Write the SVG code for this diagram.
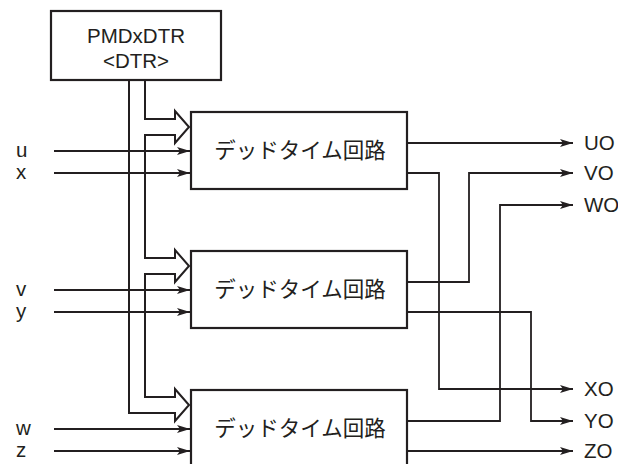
<svg xmlns="http://www.w3.org/2000/svg" width="618" height="464" viewBox="0 0 618 464">
<style>
.box{fill:#fff;stroke:#231f20;stroke-width:2.2}
.ln{fill:none;stroke:#231f20;stroke-width:1.8}
.bus{fill:none;stroke:#231f20;stroke-width:2}
.lat{font-family:"Liberation Sans",Arial,sans-serif;font-size:20.5px;fill:#231f20}
.jp{font-family:"Noto Sans CJK JP","Noto Sans",sans-serif;font-size:21.5px;fill:#231f20;text-anchor:middle}
</style>
<defs>
<marker id="ah" markerUnits="userSpaceOnUse" markerWidth="14" markerHeight="10" refX="13" refY="4.5" orient="auto">
<path d="M0,0.5 L13,4.5 L0,8.5 L3,4.5 z" fill="#231f20"/>
</marker>
</defs>
<g id="connectors">
<path class="bus" d="M145,80 V119 H175 V111 L189,127 L175,143 V135 H145 V258 H175 V250 L189,266 L175,282 V274 H145 V397 H175 V389 L189,405 L175,421 V413 H129 V80"/>
<path class="ln" marker-end="url(#ah)" d="M54,151 H190"/>
<path class="ln" marker-end="url(#ah)" d="M54,173 H190"/>
<path class="ln" marker-end="url(#ah)" d="M54,290 H190"/>
<path class="ln" marker-end="url(#ah)" d="M54,312 H190"/>
<path class="ln" marker-end="url(#ah)" d="M54,429 H190"/>
<path class="ln" marker-end="url(#ah)" d="M54,451 H190"/>
<path class="ln" marker-end="url(#ah)" d="M407,143 H573"/>
<path class="ln" marker-end="url(#ah)" d="M407,173 H439 V389 H573"/>
<path class="ln" marker-end="url(#ah)" d="M407,282 H469 V173 H573"/>
<path class="ln" marker-end="url(#ah)" d="M407,312 H531 V421 H573"/>
<path class="ln" marker-end="url(#ah)" d="M407,421 H500 V205 H573"/>
<path class="ln" marker-end="url(#ah)" d="M407,451 H573"/>
</g>
<g id="pmd">
<rect class="box" x="51" y="11" width="170" height="69"/>
<text class="lat" x="136" y="43" text-anchor="middle">PMDxDTR</text>
<text class="lat" x="136" y="68" text-anchor="middle">&lt;DTR&gt;</text>
</g>
<g id="dt1">
<rect class="box" x="191" y="112" width="216" height="77"/>
<text class="jp" x="300" y="158">デッドタイム回路</text>
</g>
<g id="dt2">
<rect class="box" x="191" y="251" width="216" height="77"/>
<text class="jp" x="300" y="297">デッドタイム回路</text>
</g>
<g id="dt3">
<rect class="box" x="191" y="390" width="216" height="80"/>
<text class="jp" x="300" y="436">デッドタイム回路</text>
</g>
<g id="inputs">
<text class="lat" x="16" y="157">u</text>
<text class="lat" x="16" y="179">x</text>
<text class="lat" x="16" y="296">v</text>
<text class="lat" x="16" y="318">y</text>
<text class="lat" x="16" y="435">w</text>
<text class="lat" x="16" y="457">z</text>
</g>
<g id="outputs">
<text class="lat" x="584" y="150">UO</text>
<text class="lat" x="584" y="180">VO</text>
<text class="lat" x="584" y="212">WO</text>
<text class="lat" x="584" y="396">XO</text>
<text class="lat" x="584" y="428">YO</text>
<text class="lat" x="584" y="458">ZO</text>
</g>
</svg>
